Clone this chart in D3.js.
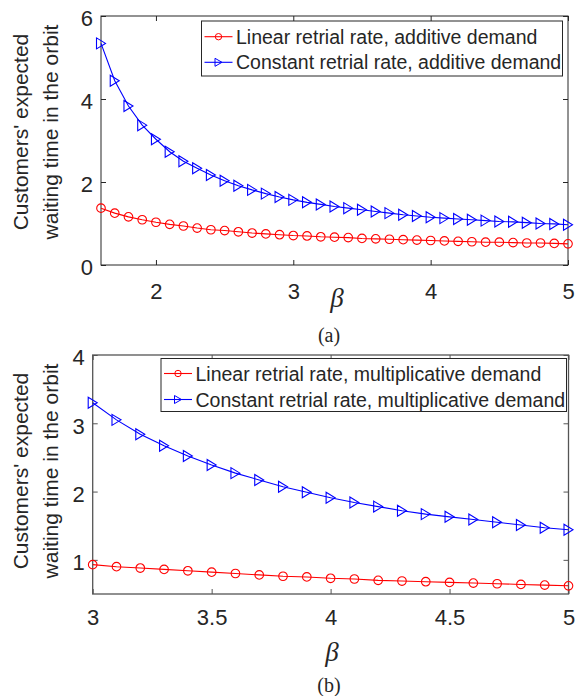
<!DOCTYPE html>
<html>
<head>
<meta charset="utf-8">
<script src="https://cdn.jsdelivr.net/npm/d3@7"></script>
<style>
  body { margin: 0; background: #fff; }
  svg { display: block; }
  text { font-family: "Liberation Sans", Arial, sans-serif; fill: #262626; }
</style>
</head>
<body>
<script>

// panel (a) : additive demand
var betaA = [1.6,1.7,1.8,1.9,2.0,2.1,2.2,2.3,2.4,2.5,2.6,2.7,2.8,2.9,3.0,3.1,3.2,3.3,3.4,3.5,
             3.6,3.7,3.8,3.9,4.0,4.1,4.2,4.3,4.4,4.5,4.6,4.7,4.8,4.9,5.0];
var linearAdd = [1.37,1.25,1.16,1.09,1.03,0.98,0.94,0.89,0.85,0.83,0.80,0.77,0.75,0.73,0.71,0.70,0.68,0.67,0.66,0.64,
                 0.63,0.62,0.61,0.60,0.59,0.58,0.57,0.56,0.55,0.55,0.54,0.53,0.53,0.52,0.51];
var constAdd = [5.34,4.44,3.83,3.37,3.03,2.73,2.50,2.33,2.17,2.03,1.91,1.81,1.72,1.64,1.57,1.51,1.46,1.41,1.37,1.33,
                1.29,1.25,1.21,1.18,1.15,1.13,1.11,1.09,1.07,1.05,1.04,1.02,1.00,0.99,0.97];
var xTicksA = [2,3,4,5];
var yTicksA = [0,2,4,6];
var legendA = ["Linear retrial rate, additive demand","Constant retrial rate, additive demand"];

// panel (b) : multiplicative demand
var betaB = [3.0,3.1,3.2,3.3,3.4,3.5,3.6,3.7,3.8,3.9,4.0,4.1,4.2,4.3,4.4,4.5,4.6,4.7,4.8,4.9,5.0];
var linearMul = [0.93,0.90,0.88,0.86,0.84,0.82,0.80,0.78,0.76,0.75,0.73,0.72,0.70,0.69,0.68,0.67,0.66,0.65,0.64,0.63,0.62];
var constMul = [3.30,3.05,2.84,2.67,2.52,2.39,2.27,2.17,2.07,1.99,1.91,1.84,1.78,1.72,1.67,1.63,1.59,1.55,1.51,1.47,1.44];
var xTicksB = [3,3.5,4,4.5,5];
var yTicksB = [1,2,3,4];
var legendB = ["Linear retrial rate, multiplicative demand","Constant retrial rate, multiplicative demand"];

var yLabel = ["Customers' expected","waiting time in the orbit"];

var W = 577, H = 696;
var svg = d3.select("body").append("svg").attr("width", W).attr("height", H);

var triPath = "M-4.5,-5.5L4.5,0L-4.5,5.5Z";
var fmt = d3.format("");

function drawPanel(p){
	var x = d3.scaleLinear().domain(p.xDomain).range([p.left, p.right]);
	var y = d3.scaleLinear().domain(p.yDomain).range([p.bottom, p.top]);
	var g = svg.append("g");

	// axes (ticks inward, mirrored on top/right)
	var xb = g.append("g").attr("transform","translate(0,"+p.bottom+")")
		.call(d3.axisBottom(x).tickValues(p.xTicks).tickSizeInner(-5).tickSizeOuter(0).tickPadding(p.xPad).tickFormat(fmt));
	var xt = g.append("g").attr("transform","translate(0,"+p.top+")")
		.call(d3.axisTop(x).tickValues(p.xTicks).tickSizeInner(-5).tickSizeOuter(0).tickFormat(""));
	var yl = g.append("g").attr("transform","translate("+p.left+",0)")
		.call(d3.axisLeft(y).tickValues(p.yTicks).tickSizeInner(-5).tickSizeOuter(0).tickPadding(8).tickFormat(fmt));
	var yr = g.append("g").attr("transform","translate("+p.right+",0)")
		.call(d3.axisRight(y).tickValues(p.yTicks).tickSizeInner(-5).tickSizeOuter(0).tickFormat(""));
	[xb,xt,yl,yr].forEach(function(a){
		a.attr("font-family",null).attr("font-size",null);
		a.selectAll(".domain").attr("stroke","none");
		a.selectAll(".tick line").attr("stroke",p.boxColor);
		a.selectAll("text").attr("font-size","22px").attr("fill","#262626");
	});
	yl.selectAll("text").attr("dy","0.45em");

	g.append("rect")
		.attr("x",p.left).attr("y",p.top)
		.attr("width",p.right-p.left).attr("height",p.bottom-p.top)
		.attr("fill","none").attr("stroke",p.boxColor).attr("stroke-width",p.boxWidth);

	// series
	var series = [
		{vals:p.linear, color:"#ff0000", marker:"circle"},
		{vals:p.constant, color:"#0000ff", marker:"tri"}
	];
	var line = d3.line().x(function(d){return x(d[0]);}).y(function(d){return y(d[1]);});
	series.forEach(function(s){
		var pts = p.beta.map(function(b,i){return [b, s.vals[i]];});
		g.append("path").datum(pts)
			.attr("d",line).attr("fill","none").attr("stroke",s.color).attr("stroke-width",1.1);
		var m = g.append("g").selectAll("g").data(pts).enter().append("g")
			.attr("transform",function(d){return "translate("+x(d[0])+","+y(d[1])+")";});
		if(s.marker==="circle"){
			m.append("circle").attr("r",4.3).attr("fill","none").attr("stroke",s.color).attr("stroke-width",1.1);
		}else{
			m.append("path").attr("d",triPath).attr("fill","none").attr("stroke",s.color).attr("stroke-width",1.1);
		}
	});

	// legend
	var L = p.legend;
	g.append("rect").attr("x",L.x).attr("y",L.y).attr("width",L.w).attr("height",L.h)
		.attr("fill","#fff").attr("stroke","#262626").attr("stroke-width",1);
	p.legendText.forEach(function(t,i){
		var cy = L.y + L.rows[i];
		var s = series[i];
		g.append("line").attr("x1",L.x+3).attr("x2",L.x+31).attr("y1",cy).attr("y2",cy)
			.attr("stroke",s.color).attr("stroke-width",1.1);
		if(s.marker==="circle"){
			g.append("circle").attr("cx",L.x+17).attr("cy",cy).attr("r",3.2)
				.attr("fill","none").attr("stroke",s.color).attr("stroke-width",1);
		}else{
			g.append("path").attr("d","M-3.5,-4L3.5,0L-3.5,4Z").attr("transform","translate("+(L.x+17)+","+cy+")")
				.attr("fill","none").attr("stroke",s.color).attr("stroke-width",1);
		}
		g.append("text").attr("x",L.x+34.5).attr("y",cy).attr("dy","0.36em")
			.attr("font-size","19.5px").attr("fill","#000").text(t);
	});

	// y label (two lines)
	var cy = p.yLabelY;
	yLabel.forEach(function(t,i){
		g.append("text")
			.attr("transform","translate("+(28+i*30)+","+cy+") rotate(-90)")
			.attr("text-anchor","middle").attr("font-size","21px").text(t);
	});

	// x label and caption
	g.append("text").attr("x",p.betaX).attr("y",p.betaY).attr("text-anchor","middle")
		.style("font-family","'Liberation Serif','Times New Roman',serif").style("font-style","italic")
		.attr("font-size","27px").attr("fill","#444").text("\u03B2");
	g.append("text").attr("x",329).attr("y",p.capY).attr("text-anchor","middle")
		.style("font-family","'Liberation Serif','Times New Roman',serif")
		.attr("font-size","20px").attr("fill","#000").text(p.caption);
}

drawPanel({
	beta:betaA, linear:linearAdd, constant:constAdd,
	xDomain:[1.6,5], yDomain:[0,6], xTicks:xTicksA, yTicks:yTicksA,
	left:101, right:568, top:16, bottom:265, xPad:18,
	boxColor:"#262626", boxWidth:1,
	legend:{x:201.5, y:21, w:361, h:55, rows:[15.7,41.3]}, legendText:legendA,
	yLabelY:132, betaX:337, betaY:307, capY:342, caption:"(a)"
});

drawPanel({
	beta:betaB, linear:linearMul, constant:constMul,
	xDomain:[3,5], yDomain:[0.5,4], xTicks:xTicksB, yTicks:yTicksB,
	left:92.7, right:568.5, top:355, bottom:594, xPad:15,
	boxColor:"#555", boxWidth:1.3,
	legend:{x:161, y:358.5, w:405.5, h:53, rows:[15,41]}, legendText:legendB,
	yLabelY:471, betaX:332, betaY:661, capY:692, caption:"(b)"
});

</script>
</body>
</html>
